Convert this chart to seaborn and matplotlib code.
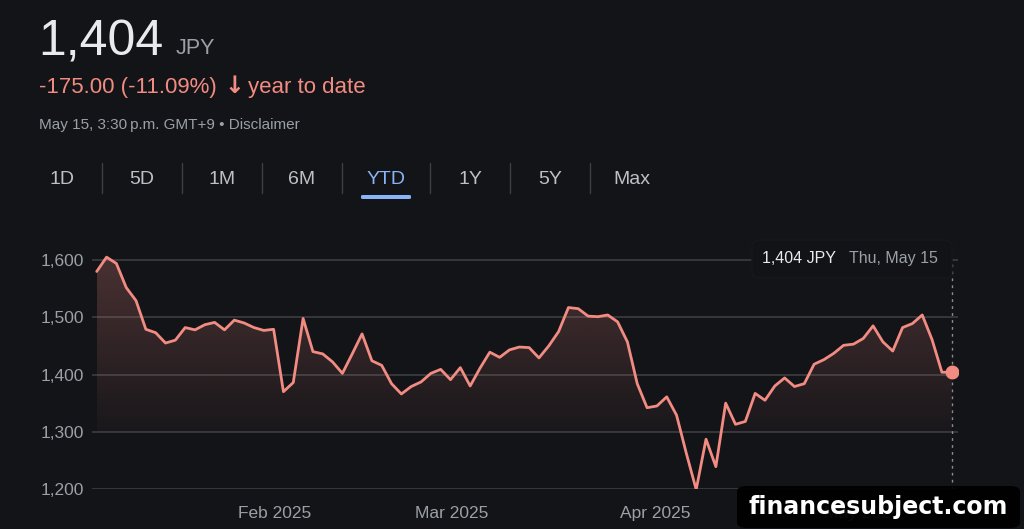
import numpy as np
import matplotlib
matplotlib.use('Agg')
import matplotlib.pyplot as plt
from matplotlib.patches import FancyBboxPatch
import seaborn as sns

# closing prices, YTD (first point = last close of 2024)
price = [1580, 1605, 1594, 1552, 1529, 1479, 1473, 1455, 1460, 1482,
         1478, 1487, 1491, 1478, 1495, 1490, 1482, 1477, 1479, 1370,
         1386, 1498, 1440, 1436, 1422, 1402, 1436, 1471, 1424, 1416,
         1384, 1366, 1379, 1387, 1402, 1409, 1391, 1412, 1380, 1411,
         1439, 1430, 1443, 1448, 1447, 1429, 1450, 1475, 1517, 1515,
         1502, 1501, 1504, 1492, 1457, 1384, 1342, 1345, 1361, 1329,
         1262, 1199, 1287, 1239, 1350, 1313, 1318, 1367, 1355, 1380,
         1394, 1379, 1384, 1418, 1426, 1437, 1451, 1453, 1463, 1485,
         1457, 1441, 1482, 1489, 1504, 1461, 1404, 1404]
month_labels = ['Feb 2025', 'Mar 2025', 'Apr 2025', 'May 2025']
month_pos = [18.1, 36.1, 56.8, 77.9]
y_ticks = [1200, 1300, 1400, 1500, 1600]
tabs = ['1D', '5D', '1M', '6M', 'YTD', '1Y', '5Y', 'Max']
tab_x = [62, 142, 222, 302, 386, 470, 550, 632]

BG = '#131418'
RED = '#f28b82'
GREY = '#9aa0a6'
W, H = 1024, 529

sns.set_style('dark')
plt.rcParams['font.family'] = ['Liberation Sans', 'DejaVu Sans']

def fx(px):
    return px / W

def fy(py):
    return 1 - py / H

fig = plt.figure(figsize=(10.24, 5.29), dpi=100, facecolor=BG)

# header
fig.text(fx(38), fy(56), '1,404', fontsize=36, color='#e8eaed', va='baseline')
fig.text(fx(176), fy(54), 'JPY', fontsize=15.5, color=GREY, va='baseline')
fig.text(fx(39), fy(93), '-175.00 (-11.09%)', fontsize=16, color=RED, va='baseline')
fig.text(fx(224), fy(93), '\u2193', fontsize=17, color=RED, va='baseline',
         fontweight='bold', family=['DejaVu Sans'])
fig.text(fx(248), fy(93), 'year to date', fontsize=16, color=RED, va='baseline')
fig.text(fx(39), fy(129), 'May 15, 3:30\u2009p.m. GMT+9 \u2022 Disclaimer', fontsize=11,
         color=GREY, va='baseline')

# range tabs
for t, x in zip(tabs, tab_x):
    c = '#8ab4f8' if t == 'YTD' else '#bdc1c6'
    fig.text(fx(x), fy(184), t, fontsize=14, color=c, va='baseline', ha='center')
for x in [102, 182, 262, 342, 430, 510, 590]:
    fig.add_artist(plt.Line2D([fx(x), fx(x)], [fy(163), fy(193)], color='#3c4043', lw=1))
fig.add_artist(FancyBboxPatch((fx(361), fy(199)), fx(50), 4 / H,
                              boxstyle='round,pad=0,rounding_size=0.002',
                              fc='#8ab4f8', ec='none'))

# chart
ax = fig.add_axes([fx(92), fy(489), fx(958 - 92), (489 - 250) / H])
ax.set_facecolor(BG)
idx = np.arange(len(price))
base = 1300

ax.set_xlim(-0.48, len(price) - 1 + 0.64)
ax.set_ylim(1200, 1617.5)

# gradient area under the line, down to 1,300
poly = ax.fill_between(idx, price, base, facecolor='none', edgecolor='none')
grad = np.zeros((256, 1, 4))
r, g, b = matplotlib.colors.to_rgb(RED)
grad[:, 0, 0], grad[:, 0, 1], grad[:, 0, 2] = r, g, b
grad[:, 0, 3] = np.linspace(0.25, 0.03, 256)
img = ax.imshow(grad, aspect='auto', extent=[0, len(price) - 1, base, 1610],
                origin='upper', zorder=1)
img.set_clip_path(poly.get_paths()[0], transform=ax.transData)

sns.lineplot(x=idx, y=price, ax=ax, color=RED, lw=2, zorder=3)
ax.plot(idx[-1], price[-1], 'o', ms=9, color=RED, zorder=4)
ax.plot([idx[-1], idx[-1]], [1200, 1595], ls=(0, (2, 3)), color='#8a8d92', lw=1, zorder=2)

for v in y_ticks:
    ax.axhline(v, color='#3c3d42', lw=1.2, zorder=0)
ax.grid(False)
for s in ax.spines.values():
    s.set_visible(False)
ax.set_yticks(y_ticks)
ax.set_yticklabels([f'{v:,}' for v in y_ticks])
ax.set_xticks(month_pos)
ax.set_xticklabels(month_labels)
ax.tick_params(axis='y', length=0, pad=6, labelsize=12.5, labelcolor=GREY)
ax.tick_params(axis='x', length=8, width=1, color='#5f6368', pad=4,
               labelsize=12.5, labelcolor=GREY)
ax.set_xlabel('')
ax.set_ylabel('')

# tooltip
fig.add_artist(FancyBboxPatch((fx(752), fy(278)), fx(200), 38 / H,
                              boxstyle='round,pad=0,rounding_size=0.01',
                              fc='#121317', ec='#17181c', lw=1))
fig.text(fx(762), fy(263), '1,404 JPY', fontsize=11.5, color='#e8eaed', va='baseline')
fig.text(fx(849), fy(263), 'Thu, May 15', fontsize=11.5, color=GREY, va='baseline')

# watermark (covers the May label, as in the source image)
fig.add_artist(FancyBboxPatch((fx(737), fy(528)), fx(283), 42 / H,
                              boxstyle='round,pad=0,rounding_size=0.01',
                              fc='black', ec='none', alpha=0.93, zorder=10))
fig.text(fx(878), fy(507), 'financesubject.com', fontsize=17, color='white',
         fontweight='bold', family=['DejaVu Sans'], ha='center', va='center', zorder=11)

fig.savefig('out.png', dpi=100, facecolor=BG)
